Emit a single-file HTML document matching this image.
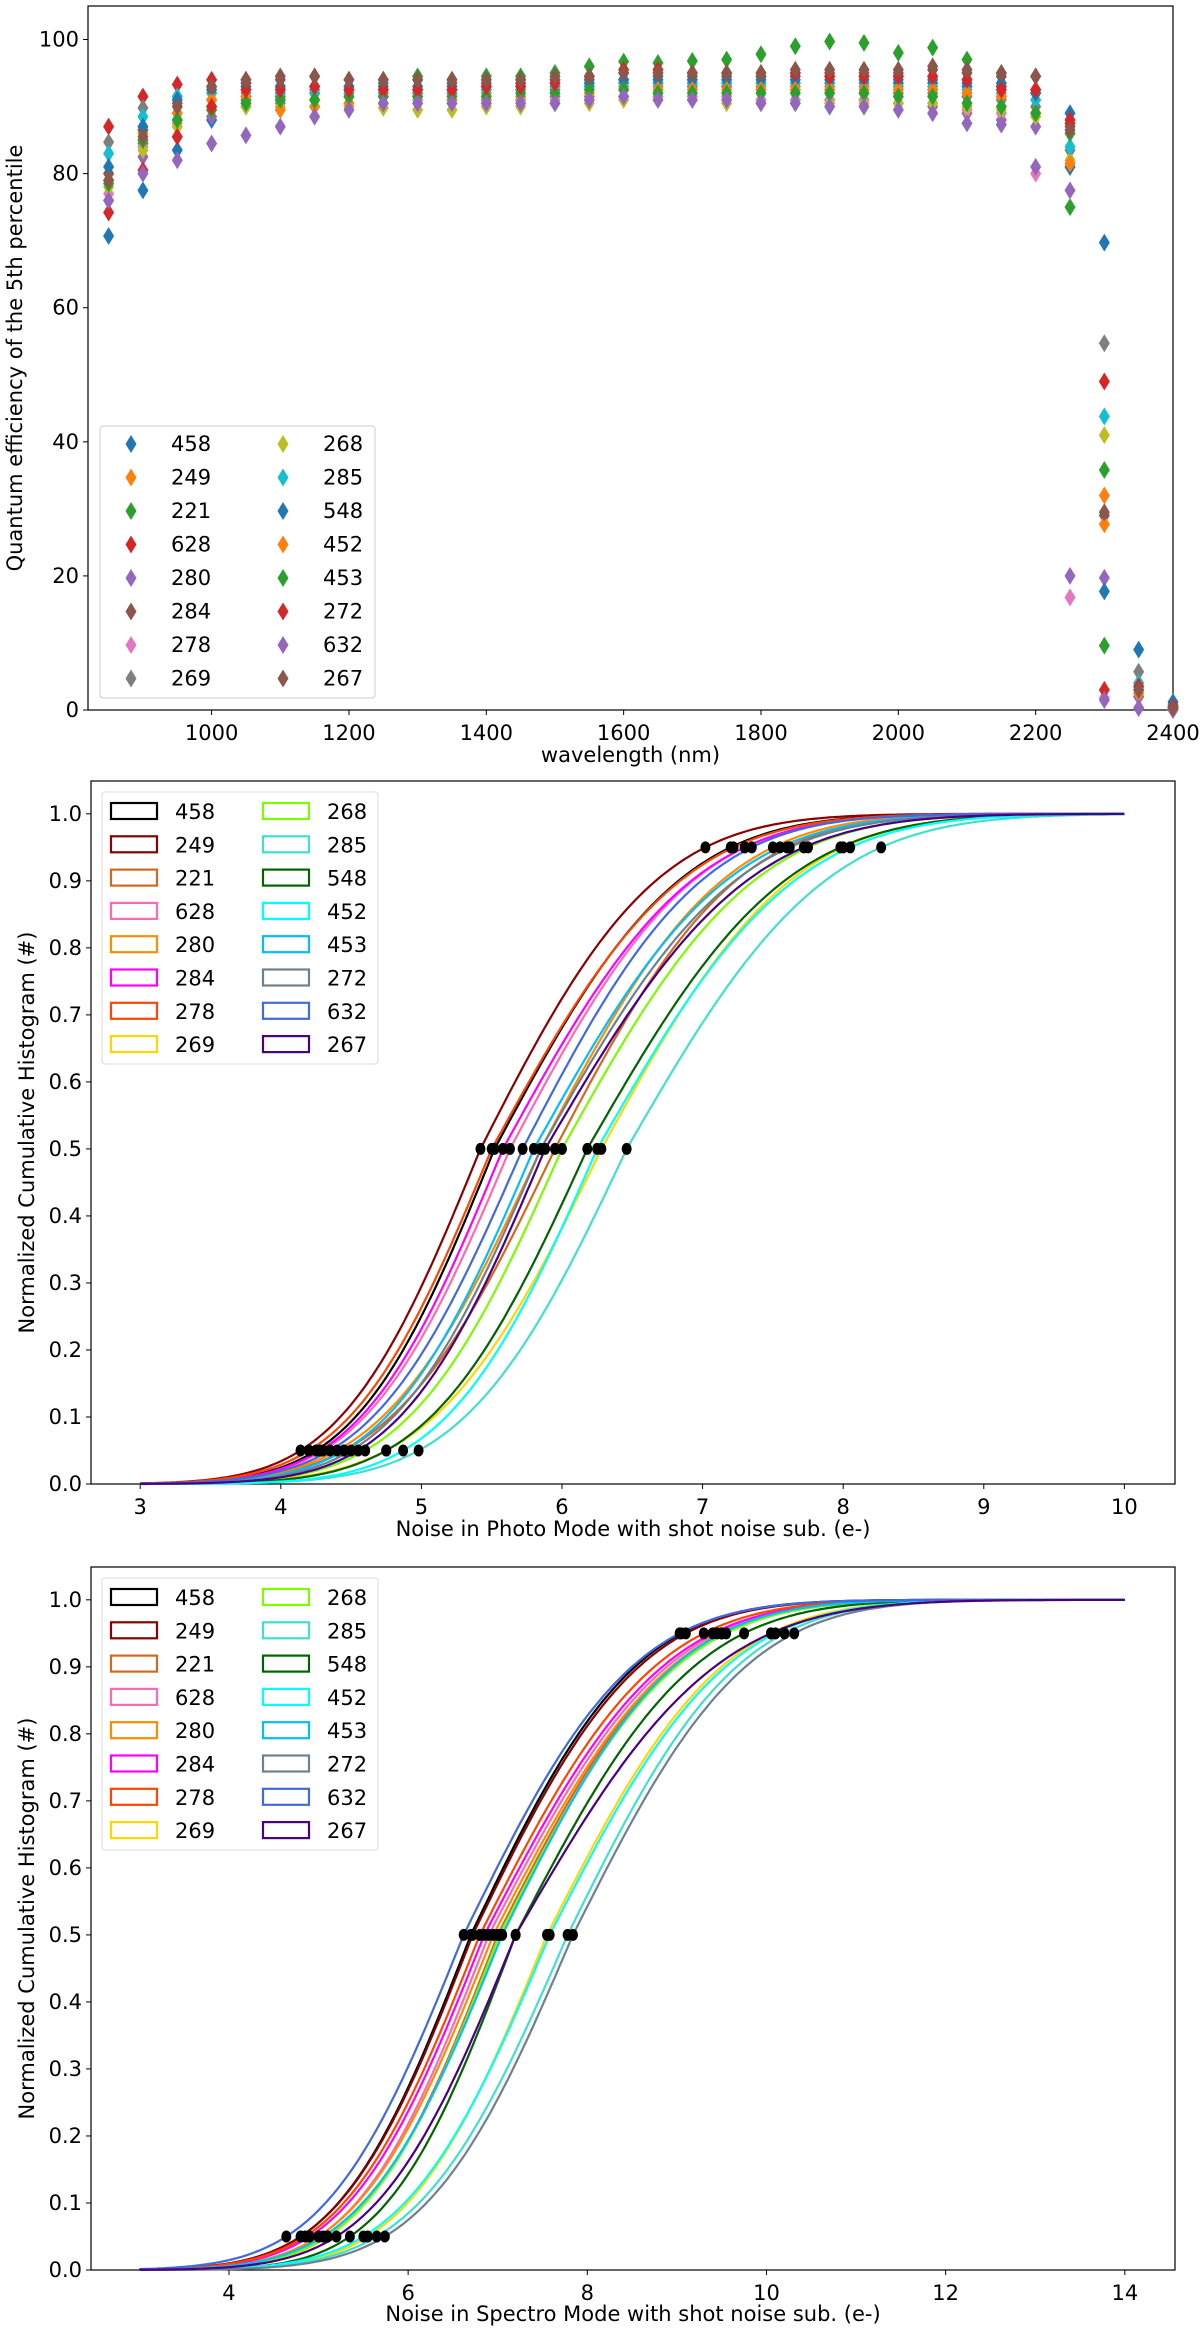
<!DOCTYPE html>
<html><head><meta charset="utf-8">
<style>
html,body{margin:0;padding:0;background:#fff;}
svg{display:block;font-family:"DejaVu Sans","Liberation Sans",sans-serif;}
</style></head>
<body>
<svg id="fig" width="1200" height="2333" viewBox="0 0 1200 2333" xmlns="http://www.w3.org/2000/svg"></svg>
<script>
// ---------- Chart 1 data: QE 5th percentile ----------
const wavelengths = [850,900,950,1000,1050,1100,1150,1200,1250,1300,1350,1400,1450,1500,1550,1600,1650,1700,1750,1800,1850,1900,1950,2000,2050,2100,2150,2200,2250,2300,2350,2400];
const qeNames = ["458","249","221","628","280","284","278","269","268","285","548","452","453","272","632","267"];
const qeColors = ["#1f77b4","#ff7f0e","#2ca02c","#d62728","#9467bd","#8c564b","#e377c2","#7f7f7f","#bcbd22","#17becf","#1f77b4","#ff7f0e","#2ca02c","#d62728","#9467bd","#8c564b"];
const qe458 = [70.7,77.5,83.5,88,91.5,92,92,92.5, 92,92,92,92.5,92.5,93,93,93.5, 93.5,93.5,93.5,93.5,93.5,93.5,93.5,93.5, 93.5,93,93,92,89,69.7,2,0.5];
const qe249 = [80,86,89,91,91.5,91.5,92,92, 92,92,92,92,92.5,92.5,93,93, 93,93,93,93,93,93,93,93, 92.5,92,91.5,89,81,32,3,0.3];
const qe221 = [79,84.5,88,90,91,91.5,92,93, 93.5,94.5,94,94.5,94.5,95,96,96.7, 96.5,96.8,97,97.8,99,99.7,99.5,98, 98.8,97,95,92,75,35.8,3,0.2];
const qe628 = [87,91.5,93.3,94,93.5,93,93,92.5, 92.5,92.5,92.5,93,93.5,94,94.5,95, 95.5,95,95,94.5,94.5,94.5,94.5,94.5, 94.5,94,93,92.5,88,49,4,0.5];
const qe280 = [76,82.5,85.5,88.5,90,90.5,91,91.5, 91.5,91.5,91,91,91,91.5,91.5,91.5, 91.5,91.5,91.5,91,91,91,91,90.5, 90,89,88,87,77.5,19.7,2,0.3];
const qe284 = [80,86.5,90.5,93,94,94.5,94.5,94, 94,94,93.5,93.5,94,94,94,94, 94.5,94.5,94.5,94.5,95,95,95,95, 95.5,95,94.5,94.5,87,29,3.5,0.5];
const qe278 = [77,84,87.5,89.5,90.5,91,91,91.5, 91.5,91,90.5,90.5,91,91,91,91.5, 91.5,91.5,91.5,91,91,91,91,90.5, 90.5,89.5,89,80,16.8,1.8,0.3,0];
const qe269 = [84.7,89.8,91.5,92,92.5,92.5,92.5,92.5, 92.5,92.5,92,92.5,92.5,92.5,93,93.5, 93.5,93,93,92.5,92.5,92.5,92,92, 92,91.5,91,90,83.5,54.7,5.7,0.8];
const qe268 = [78,83.5,87,89.5,90,90,90,90, 89.8,89.5,89.5,90,90,90.5,90.5,91, 91,91,90.5,90.5,90.5,90.5,90.5,90.5, 90.5,90,89.5,88.5,82,41,2.5,0.3];
const qe285 = [83,88.5,91.5,92,92,92,92,92, 92,92,92,92.5,92.5,93,93,93.5, 93.5,93.5,93.5,93.5,93.5,93.5,93.5,93, 93,92.5,92,91,84,43.8,4,0.5];
const qe548 = [81,87,91,92.5,93,93,93,93, 93,93,93,93,93,93.5,93.5,94, 94,94,94,94,94,94,94,94, 94,93.5,93.5,92,81,17.7,9,1.2];
const qe452 = [79,85,89,91,91.5,89.5,90,90.5, 90.5,90.5,91,91,91.5,92,92,92.5, 92.5,92.5,92.5,92.5,92.5,92.5,92.5,92.5, 92.5,92,91.5,89,81.5,27.7,2.5,0.3];
const qe453 = [78.5,85,88,89.5,90.5,91,91,91.5, 91.5,91.5,91.5,91.5,92,92,92.5,92.5, 92,92,92,92,92,92,92,91.5, 91.5,90.5,90,89,86,9.6,3,0.2];
const qe272 = [74.2,80.5,85.5,90,92.5,92.5,93,92.5, 92.5,92.5,92.5,93,93,93.5,94.5,95.5, 95,95,95,95,95,94.5,94.5,94.5, 94.5,94,92.5,92.5,87.5,3,3.5,0.5];
const qe632 = [76,80,82,84.5,85.7,87,88.5,89.5, 90.5,90.5,90.5,90.5,90.5,90.5,91,91.5, 91,91,91,90.5,90.5,90,90,89.5, 89,87.5,87.3,81,20,1.5,0.3,0];
const qe267 = [79,85.5,90,93,94,94,94.5,94, 94,94,94,94,94,94.5,94.5,95, 95,95,95,95,95.5,95.5,95.5,95.5, 96,95.5,95,94.5,86.5,29.5,3,0.3];
const qeSeries = [qe458,qe249,qe221,qe628,qe280,qe284,qe278,qe269,qe268,qe285,qe548,qe452,qe453,qe272,qe632,qe267];
const qeXTicks = [1000,1200,1400,1600,1800,2000,2200,2400];
const qeYTicks = [0,20,40,60,80,100];

// ---------- Chart 2/3 data ----------
const cdfNames = ["458","249","221","628","280","284","278","269","268","285","548","452","453","272","632","267"];
const cdfColors = ["#000000","#8b0000","#d2691e","#ff69b4","#ff8c00","#ff00ff","#ff4500","#ffd700","#7cfc00","#40e0d0","#006400","#00ffff","#00bfff","#708090","#4169e1","#4b0082"];
const photoP5 = [4.25,4.14,4.45,4.3,4.4,4.28,4.2,4.75,4.6,4.98,4.75,4.87,4.45,4.5,4.35,4.55];
const photoMedian = [5.52,5.42,5.95,5.63,5.85,5.58,5.5,6.28,6.0,6.46,6.18,6.25,5.8,5.85,5.72,5.88];
const photoP95 = [7.2,7.02,7.6,7.3,7.5,7.3,7.22,8.0,7.75,8.27,7.98,8.05,7.55,7.62,7.35,7.72];
const photoXTicks = [3,4,5,6,7,8,9,10];
const specP5 = [4.8,4.8,5.1,5.0,5.0,4.9,4.85,5.55,5.1,5.65,5.35,5.5,5.05,5.74,4.64,5.2];
const specMedian = [6.7,6.72,7.0,6.9,6.95,6.85,6.8,7.55,7.02,7.78,7.2,7.58,7.05,7.84,6.62,7.2];
const specP95 = [9.05,9.1,9.5,9.45,9.5,9.4,9.3,10.05,9.55,10.2,9.75,10.1,9.5,10.31,9.03,10.05];
const specXTicks = [4,6,8,10,12,14];
const cdfYTicks = [0,0.1,0.2,0.3,0.4,0.5,0.6,0.7,0.8,0.9,1.0];

const NS="http://www.w3.org/2000/svg";
const fig=document.getElementById('fig');
function mk(tag,attrs,parent){const e=document.createElementNS(NS,tag);for(const k in attrs)e.setAttribute(k,attrs[k]);(parent||fig).appendChild(e);return e;}
function txt(s,attrs,parent){const e=mk('text',attrs,parent);e.textContent=s;return e;}

function axes(name,L,R,T,B,x0,x1,y0,y1){
  const g=mk('g',{});
  
  
  return {g,L,R,T,B,sx:v=>L+(v-x0)/(x1-x0)*(R-L),sy:v=>B-(v-y0)/(y1-y0)*(B-T)};
}
function frame(a,xt,yt,xfmt,yfmt,xlabel,ylabel,ylx,xly){
  const f=mk('rect',{x:a.L,y:a.T,width:a.R-a.L,height:a.B-a.T,fill:'none',stroke:'#000','stroke-width':1.2},a.g);
  
  xt.forEach(v=>{const x=a.sx(v);mk('line',{x1:x,x2:x,y1:a.B,y2:a.B+5,stroke:'#000'},a.g);
    const t=txt(xfmt(v),{x:x,y:a.B+30,'text-anchor':'middle','font-size':21},a.g);
    });
  yt.forEach(v=>{const y=a.sy(v);mk('line',{x1:a.L-5,x2:a.L,y1:y,y2:y,stroke:'#000'},a.g);
    const t=txt(yfmt(v),{x:a.L-9,y:y+7,'text-anchor':'end','font-size':21},a.g);
    });
  const xl=txt(xlabel,{x:(a.L+a.R)/2,y:xly,'text-anchor':'middle','font-size':21},a.g);
  
  const yc=(a.T+a.B)/2;
  const yl=txt(ylabel,{x:ylx,y:yc,'text-anchor':'middle','font-size':21,transform:`rotate(-90 ${ylx} ${yc})`},a.g);
  
}
function diamond(g,x,y,c){return mk('polygon',{points:`${x},${y-9} ${x+5.5},${y} ${x},${y+9} ${x-5.5},${y}`,fill:c},g);}

// ---------- Chart 1 ----------
const a1=axes('qe-scatter-chart',88,1173,6,710,820,2400,0,105);
frame(a1,qeXTicks,qeYTicks,v=>String(v),v=>String(v),'wavelength (nm)','Quantum efficiency of the 5th percentile',22,762);
qeSeries.forEach((s,i)=>{
  const sg=mk('g',{},a1.g);
  
  
  s.forEach((v,j)=>{const p=diamond(sg,a1.sx(wavelengths[j]),a1.sy(v),qeColors[i]);
    });
});
{
  const lg=mk('g',{},a1.g);
  
  mk('rect',{x:100,y:426,width:275,height:272,rx:3,fill:'#fff','fill-opacity':0.85,stroke:'#ccc'},lg);
  qeNames.forEach((n,i)=>{const col=Math.floor(i/8),row=i%8;const y=444+row*33.5;
    const mx=col?283:131,tx=col?323:171;
    const e=mk('g',{},lg);
    diamond(e,mx,y,qeColors[i]);txt(n,{x:tx,y:y+7,'font-size':21},e);});
}

// ---------- CDF charts ----------
function phi(z){const t=1/(1+0.2316419*Math.abs(z));const d=0.3989423*Math.exp(-z*z/2);
  let p=d*t*(0.3193815+t*(-0.3565638+t*(1.781478+t*(-1.821256+t*1.330274))));return z>0?1-p:p;}
function cdfChart(name,L,R,T,B,x0,x1,xEnd,xt,p5,med,p95,xlabel,xly,legTop){
  const a=axes(name,L,R,T,B,x0,x1,0,1+0.049*1);
  a.sy=v=>B-v*(B-(T+ (B-T)*0.0467));
  frame(a,xt,cdfYTicks,v=>String(v),v=>v.toFixed(1),xlabel,'Normalized Cumulative Histogram (#)',34,xly);
  cdfNames.forEach((n,i)=>{
    const sl=(med[i]-p5[i])/1.645,sr=(p95[i]-med[i])/1.645;
    let d='';const N=300;
    for(let k=0;k<=N;k++){const x=3+(xEnd-3)*k/N;const z=x<med[i]?(x-med[i])/sl:(x-med[i])/sr;
      d+=(k?'L':'M')+a.sx(x).toFixed(1)+','+a.sy(phi(z)).toFixed(1);}
    const p=mk('path',{d:d,fill:'none',stroke:cdfColors[i],'stroke-width':2.2},a.g);
    
  });
  cdfNames.forEach((n,i)=>{
    [[p5[i],0.05],[med[i],0.5],[p95[i],0.95]].forEach(q=>{
      const c=mk('ellipse',{cx:a.sx(q[0]),cy:a.sy(q[1]),rx:5,ry:6,fill:'#000'},a.g);
      });
  });
  const lg=mk('g',{},a.g);
  
  mk('rect',{x:102,y:legTop,width:276,height:272,rx:3,fill:'#fff','fill-opacity':0.85,stroke:'#ddd'},lg);
  cdfNames.forEach((n,i)=>{const col=Math.floor(i/8),row=i%8;const y=legTop+19+row*33.3;
    const rx=col?263:111,tx=col?327:175;
    const e=mk('g',{},lg);
    mk('rect',{x:rx,y:y-8,width:46,height:16,fill:'none',stroke:cdfColors[i],'stroke-width':2.2},e);
    txt(n,{x:tx,y:y+8,'font-size':21},e);});
}
cdfChart('photo-cdf-chart',91,1175,781,1484,2.65,10.36,10,photoXTicks,photoP5,photoMedian,photoP95,'Noise in Photo Mode with shot noise sub. (e-)',1536,792);
cdfChart('spectro-cdf-chart',91,1175,1567,2270,2.46,14.56,14,specXTicks,specP5,specMedian,specP95,'Noise in Spectro Mode with shot noise sub. (e-)',2321,1578);
</script>
</body></html>
